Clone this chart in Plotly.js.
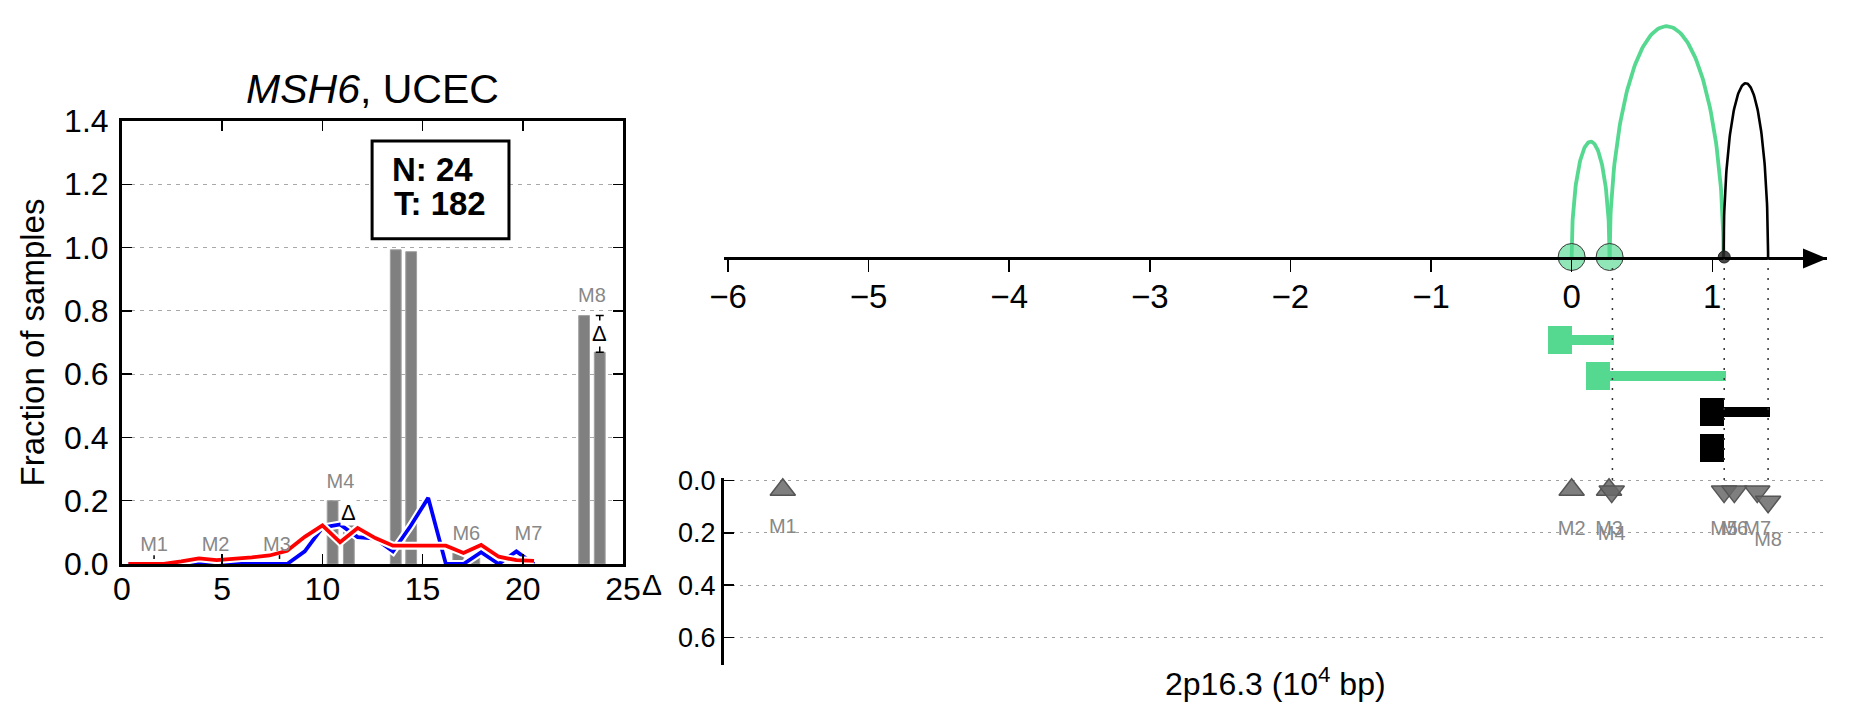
<!DOCTYPE html>
<html><head><meta charset="utf-8">
<script src="https://cdn.plot.ly/plotly-3.0.1.min.js"></script>
<style>html,body{margin:0;padding:0;background:#fff;}#chart{width:1851px;height:718px;}</style>
</head><body><div id="chart"></div>
<script>
// ================= LEFT PANEL DATA =================
const profileX = [0.32,1.2,2.08,2.96,3.84,4.72,5.6,6.48,7.36,8.24,9.12,10.0,10.88,11.76,12.64,13.52,14.4,15.28,16.16,17.04,17.92,18.8,19.68,20.56];
const redProfile  = [0,0,0,0.008,0.018,0.012,0.016,0.021,0.027,0.042,0.086,0.122,0.069,0.114,0.082,0.058,0.058,0.058,0.058,0.035,0.06,0.023,0.012,0.01];
const blueProfile = [0,0,0,0,0,0,0,0,0,0,0.04,0.115,0.125,0.085,0.08,0.04,0.12,0.209,0,0,0.037,0,0.04,0];
const barX = [10.51,11.32,13.66,14.43,16.78,17.58,23.06,23.84];
const barY = [0.20,0.127,0.993,0.987,0.035,0.02,0.785,0.669];
const leftLabels = ['M1','M2','M3','M4','M6','M7','M8'];
const leftLabelX = [1.6,4.67,7.73,10.9,17.18,20.28,23.45];
const leftLabelY = [0.056,0.056,0.056,0.257,0.092,0.092,0.843];
const deltaX  = [11.32,23.84];
const deltaLo = [0.127,0.669];
const deltaHi = [0.20,0.785];
const smallMarkX = [1.6,7.86];
const smallMarkLo = [0.016,0.016];
const smallMarkHi = [0.028,0.028];
const countLabels = ['N: 24','T: 182'];
const countBox = {x0:12.48, x1:19.31, y0:1.028, y1:1.337};
const countTextX = [13.35,13.45];
const countTextY = [1.246,1.139];
const yTicksLeft = [0,0.2,0.4,0.6,0.8,1.0,1.2,1.4];
const xTicksLeft = [0,5,10,15,20,25];

// ================= RIGHT PANEL DATA =================
const motifNames = ['M1','M2','M3','M4','M5','M6','M7','M8'];
const motifPos   = [-5.61,0.0,0.266,0.285,1.084,1.157,1.32,1.397];
const motifDelta = [0.035,0.035,0.035,0.042,0.042,0.042,0.042,0.081];
const motifDir   = ['up','up','up','down','down','down','down','down'];
const motifLabelY= [0.183,0.187,0.187,0.208,0.187,0.187,0.187,0.231];
const arcFrom   = [0,0.27,1.08];
const arcTo     = [0.27,1.08,1.397];
const arcHeight = [0.449,0.898,0.676];
const arcColor  = ['#55d88f','#55d88f','#000000'];
const arcWidth  = [3.8,3.8,2.6];
const nodeX     = [0,0.27];
const smallNodeX= [1.085];
const segStart  = [0,0.27,1.085,1.085];
const segEnd    = [0.30,1.095,1.41,1.085];
const segColor  = ['#55d88f','#55d88f','#000000','#000000'];
const guideX    = [0.29,1.085,1.397];
const xTicksRight = [-6,-5,-4,-3,-2,-1,0,1];
const yTicksDelta = [0,0.2,0.4,0.6];

// ================= GEOMETRY / STYLE =================
const W = 1851, H = 718;
const px = v => v / W;            // horizontal pixel -> paper
const py = v => (H - v) / H;      // vertical pixel -> paper
const FONT = 'Liberation Sans, Arial, Helvetica, sans-serif';
const xRangeR = [-6.028, 1.816];
const domR = [px(724), px(1827)];
const squareW = 24 / ((1827 - 724) / (xRangeR[1] - xRangeR[0]));

const traces = [];
traces.push({type:'bar', x:barX, y:barY, width:0.54, xaxis:'x', yaxis:'y',
  marker:{color:'#808080', line:{color:'#a0a0a0', width:1}}, hoverinfo:'skip'});
function haloLine(y, color){
  traces.push({type:'scatter', mode:'lines', x:profileX, y:y, xaxis:'x', yaxis:'y',
    line:{color:'#ffffff', width:8}, hoverinfo:'skip'});
  traces.push({type:'scatter', mode:'lines', x:profileX, y:y, xaxis:'x', yaxis:'y',
    line:{color:color, width:3.8}, hoverinfo:'skip'});
}
haloLine(blueProfile, '#0000ff');
haloLine(redProfile, '#ff0000');
traces.push({type:'scatter', mode:'markers', xaxis:'x', yaxis:'y',
  x:deltaX, y:deltaX.map((_,i)=>(deltaLo[i]+deltaHi[i])/2),
  marker:{opacity:0, size:1},
  error_y:{type:'data', symmetric:true, array:deltaX.map((_,i)=>(deltaHi[i]-deltaLo[i])/2),
    color:'#000', thickness:1.5, width:4}, hoverinfo:'skip'});
traces.push({type:'scatter', mode:'markers', xaxis:'x', yaxis:'y',
  x:smallMarkX, y:smallMarkX.map((_,i)=>(smallMarkLo[i]+smallMarkHi[i])/2),
  marker:{opacity:0, size:1},
  error_y:{type:'data', symmetric:true, array:smallMarkX.map((_,i)=>(smallMarkHi[i]-smallMarkLo[i])/2),
    color:'#000', thickness:1.5, width:0}, hoverinfo:'skip'});
traces.push({type:'scatter', mode:'text', x:leftLabelX, y:leftLabelY, text:leftLabels,
  xaxis:'x', yaxis:'y', textposition:'middle center', cliponaxis:false,
  textfont:{family:FONT, size:20, color:'#888888'}, hoverinfo:'skip'});

for (let i=0;i<arcFrom.length;i++){
  const c=(arcFrom[i]+arcTo[i])/2, a=(arcTo[i]-arcFrom[i])/2, xs=[], ys=[];
  for (let k=0;k<=120;k++){ const t=Math.PI*k/120; xs.push(c - a*Math.cos(t)); ys.push(arcHeight[i]*Math.sin(t)); }
  traces.push({type:'scatter', mode:'lines', x:xs, y:ys, xaxis:'x2', yaxis:'y2',
    line:{color:arcColor[i], width:arcWidth[i]}, hoverinfo:'skip', cliponaxis:false});
}
traces.push({type:'scatter', mode:'markers', x:nodeX, y:nodeX.map(()=>0), xaxis:'x2', yaxis:'y2',
  cliponaxis:false, marker:{size:27, color:'rgba(85,216,143,0.65)', line:{color:'#3a3a3a', width:1}}, hoverinfo:'skip'});
traces.push({type:'scatter', mode:'markers', x:smallNodeX, y:smallNodeX.map(()=>0), xaxis:'x2', yaxis:'y2',
  cliponaxis:false, marker:{size:12, color:'rgba(40,40,40,0.85)', line:{color:'#222', width:1}}, hoverinfo:'skip'});

const rows = segStart.map((_,i)=>i+1);
traces.push({type:'bar', orientation:'h', y:rows, x:segStart.map(()=>squareW), base:segStart.map(s=>s-squareW),
  width:0.78, xaxis:'x3', yaxis:'y3', marker:{color:segColor, line:{width:0}}, hoverinfo:'skip'});
traces.push({type:'bar', orientation:'h', y:rows, x:segStart.map((s,i)=>segEnd[i]-s), base:segStart,
  width:0.28, xaxis:'x3', yaxis:'y3', marker:{color:segColor, line:{width:0}}, hoverinfo:'skip'});

const upIdx = motifDir.map((d,i)=>d==='up'?i:-1).filter(i=>i>=0);
const dnIdx = motifDir.map((d,i)=>d==='down'?i:-1).filter(i=>i>=0);
function triTrace(idx, sym){
  return {type:'scatter', mode:'markers', x:idx.map(i=>motifPos[i]), y:idx.map(i=>motifDelta[i]),
    xaxis:'x4', yaxis:'y4', cliponaxis:false,
    marker:{symbol:sym, size:22, color:'rgba(105,105,105,0.85)', line:{color:'#555', width:1.5}}, hoverinfo:'skip'};
}
traces.push(triTrace(upIdx,'triangle-up'));
traces.push(triTrace(dnIdx,'triangle-down'));
traces.push({type:'scatter', mode:'text', x:motifPos, y:motifLabelY, text:motifNames,
  xaxis:'x4', yaxis:'y4', cliponaxis:false, textposition:'middle center',
  textfont:{family:FONT, size:20, color:'#888888'}, hoverinfo:'skip'});

// ================= ANNOTATIONS & SHAPES =================
const annotations = [];
countLabels.forEach((t,i)=>annotations.push({xref:'x', yref:'y', x:countTextX[i], y:countTextY[i], showarrow:false,
  text:'<b>'+t+'</b>', font:{family:FONT, size:33, color:'#000'}, xanchor:'left', yanchor:'middle'}));
deltaX.forEach((x,i)=>annotations.push({xref:'x', yref:'y', x:x, y:(deltaLo[i]+deltaHi[i])/2,
  text:'Δ', showarrow:false, font:{family:FONT, size:22, color:'#000'}, bgcolor:'#fff', borderpad:0,
  xanchor:'center', yanchor:'middle'}));
annotations.push({xref:'paper', yref:'paper', x:px(652), y:py(584), text:'Δ', showarrow:false,
  xanchor:'center', yanchor:'middle', font:{family:FONT, size:30, color:'#000'}});
annotations.push({xref:'paper', yref:'paper', x:(domR[0]+domR[1])/2, y:py(682),
  xanchor:'center', yanchor:'middle',
  text:'2p16.3 (10<sup>4</sup> bp)', showarrow:false, font:{family:FONT, size:32, color:'#000'}});

const shapes = [];
shapes.push({type:'rect', xref:'x', yref:'y', x0:countBox.x0, x1:countBox.x1, y0:countBox.y0, y1:countBox.y1,
  fillcolor:'#fff', line:{color:'#000', width:3}, layer:'between'});
guideX.forEach(x=>shapes.push({type:'line', xref:'x2', yref:'paper', x0:x, x1:x, y0:py(480), y1:py(259),
  line:{color:'#333', width:1.5, dash:'2px,8px'}}));
shapes.push({type:'path', xref:'paper', yref:'paper', xsizemode:'pixel', ysizemode:'pixel',
  xanchor:domR[1], yanchor:py(258.5), path:'M-24,-10 L0,0 L-24,10 Z', fillcolor:'#000', line:{width:0}});

const layout = {
  width:W, height:H, margin:{l:0,r:0,t:0,b:0}, paper_bgcolor:'#fff', plot_bgcolor:'rgba(0,0,0,0)',
  showlegend:false, bargap:0, barmode:'overlay', font:{family:FONT, color:'#000'},
  title:{text:'<i>MSH6</i>, UCEC', font:{family:FONT, size:41, color:'#000'}, xref:'paper', yref:'paper',
    x:(px(122)+px(623))/2, xanchor:'center', y:py(89), yanchor:'middle'},
  xaxis:{domain:[px(122),px(623)], range:[0,25], anchor:'y', tickvals:xTicksLeft, showgrid:false, zeroline:false,
    showline:true, mirror:'ticks', linewidth:3, linecolor:'#000', ticks:'inside', ticklen:10, tickwidth:1.5,
    tickcolor:'#000', tickfont:{family:FONT, size:32}, ticklabelstandoff:-5, fixedrange:true},
  yaxis:{domain:[py(564),py(121)], range:[0,1.4], anchor:'x', tickvals:yTicksLeft, tickformat:'.1f',
    showgrid:true, gridcolor:'#a8a8a8', gridwidth:1, griddash:'4px,5px', zeroline:false,
    showline:true, mirror:'ticks', linewidth:3, linecolor:'#000', ticks:'inside', ticklen:10, tickwidth:1.5,
    tickcolor:'#000', tickfont:{family:FONT, size:32}, ticklabelstandoff:4,
    title:{text:'Fraction of samples', font:{family:FONT, size:33}, standoff:10}},
  xaxis2:{domain:domR, range:xRangeR, anchor:'y2', tickvals:xTicksRight, showgrid:false, zeroline:false,
    showline:true, linewidth:3, linecolor:'#000', ticks:'outside', ticklen:12, tickwidth:1.5, tickcolor:'#000',
    tickfont:{family:FONT, size:33}, ticklabelstandoff:-4},
  yaxis2:{domain:[py(257),1], range:[0,1], anchor:'x2', visible:false},
  xaxis3:{domain:domR, range:xRangeR, anchor:'y3', visible:false},
  yaxis3:{domain:[py(484),py(304)], range:[5,0], anchor:'x3', visible:false},
  xaxis4:{domain:domR, range:xRangeR, anchor:'y4', visible:false},
  yaxis4:{domain:[py(665),py(478)], range:[0.705,-0.01], anchor:'x4', tickvals:yTicksDelta, tickformat:'.1f',
    showgrid:true, gridcolor:'#a0a0a0', gridwidth:1, griddash:'3px,5px', zeroline:false,
    showline:true, linewidth:3, linecolor:'#000', ticks:'inside', ticklen:10, tickwidth:1.5, tickcolor:'#000',
    tickfont:{family:FONT, size:27}},
  annotations:annotations, shapes:shapes
};
Plotly.newPlot('chart', traces, layout, {staticPlot:true, displayModeBar:false});
</script></body></html>
